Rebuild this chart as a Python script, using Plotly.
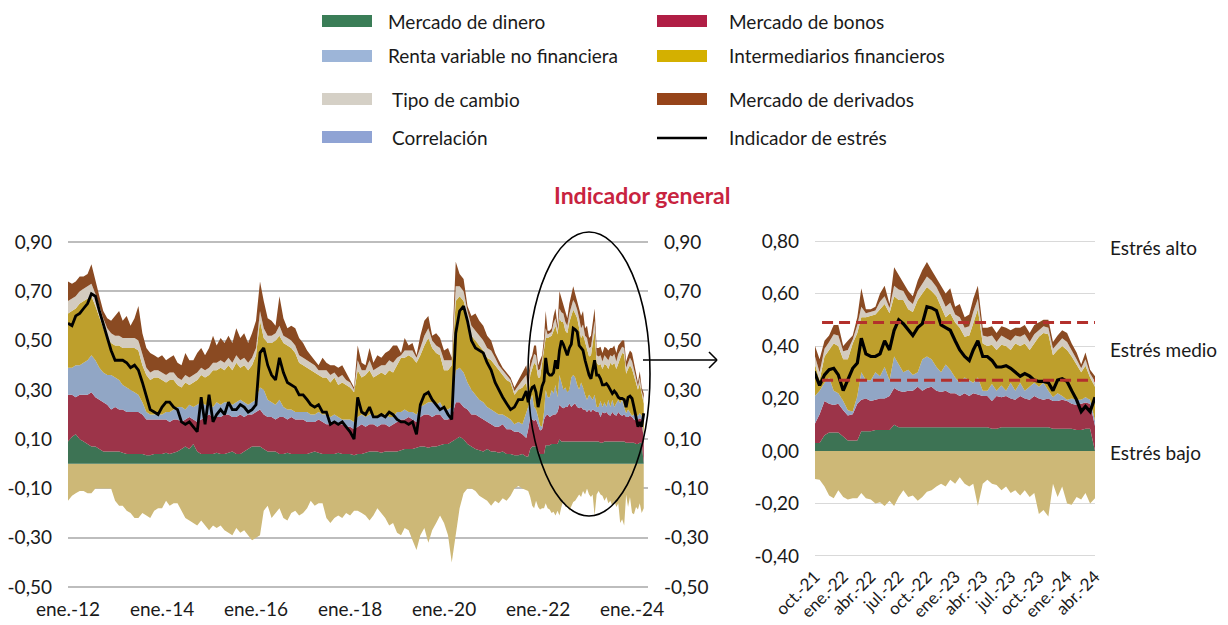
import pandas as pd
import plotly.graph_objects as go

# ---------------- Fechas: mensual 2012-01..2021-09, quincenal 2021-10..2024-04
meses = list(pd.date_range("2012-01-01", "2021-09-01", freq="MS"))
inicio_quinc = list(pd.date_range("2021-10-01", "2024-04-01", freq="MS"))
quinc = []
for k, d in enumerate(inicio_quinc):
    quinc.append(d)
    if k < len(inicio_quinc) - 1:
        quinc.append(d + pd.Timedelta(days=15))
fechas = meses + quinc

# ---------------- Componentes
mercado_dinero = [
    .09, .11, .12, .10, .09, .08, .07, .07, .06, .05, .05, .05,
    .05, .05, .045, .04, .04, .04, .04, .04, .035, .035, .04, .04,
    .04, .045, .04, .045, .05, .06, .07, .06, .08, .05, .04, .04,
    .04, .04, .045, .04, .04, .045, .05, .04, .04, .05, .06, .07,
    .07, .07, .06, .05, .05, .05, .04, .04, .045, .04, .04, .04,
    .04, .04, .045, .05, .045, .04, .04, .04, .04, .045, .04, .04,
    .04, .035, .04, .04, .045, .05, .05, .05, .045, .05, .05, .05,
    .05, .055, .06, .06, .06, .065, .07, .07, .065, .07, .07, .075,
    .08, .08, .09, .10, .11, .10, .08, .07, .06, .055, .05, .06,
    .05, .05, .045, .05, .04, .04, .035, .035, .04,
    .03, .03, .06, .07, .07, .07, .055, .04, .04, .04, .075, .075, .075, .08, .08, .08, .08,
    .10, .09, .09, .09, .09, .09, .09, .09, .09, .09, .09, .09, .09, .09, .09, .09, .09, .09,
    .09, .09, .09, .085, .085, .09, .09, .09, .09, .09, .09, .09, .09, .09, .09, .09,
    .085, .085, .085, .085, .085, .08, .08, .085, .085,
]
mercado_bonos = [
    .19, .17, .15, .18, .19, .20, .22, .20, .20, .20, .19, .17,
    .18, .17, .175, .17, .17, .17, .17, .16, .145, .145, .14, .14,
    .14, .135, .13, .135, .13, .11, .11, .13, .10, .12, .14, .15,
    .16, .15, .145, .15, .16, .155, .14, .15, .16, .14, .14, .13,
    .14, .15, .14, .14, .14, .13, .15, .15, .135, .15, .14, .14,
    .14, .13, .125, .12, .135, .13, .12, .12, .13, .115, .12, .11,
    .11, .105, .11, .12, .105, .11, .11, .10, .115, .11, .10, .11,
    .12, .125, .12, .13, .12, .105, .12, .13, .135, .12, .13, .125,
    .10, .10, .10, .15, .14, .13, .14, .13, .14, .135, .13, .11,
    .11, .10, .105, .11, .10, .10, .095, .095, .08,
    .075, .11, .13, .11, .105, .11, .10, .095, .10, .14, .12, .125, .115, .115, .12, .12, .13,
    .14, .14, .135, .14, .14, .155, .14, .15, .155, .14, .135, .14, .13, .13, .12, .13, .12,
    .13, .125, .12, .12, .105, .125, .115, .12, .11, .105, .12, .11, .105, .12, .11, .105,
    .11, .105, .105, .11, .105, .095, .095, .10, .10, .095, .095,
]
renta_variable = [
    .11, .11, .13, .12, .13, .14, .15, .15, .13, .12, .12, .14,
    .12, .12, .10, .10, .09, .08, .07, .05, .03, .02, .02, .02,
    .02, .03, .04, .04, .05, .06, .04, .05, .05, .07, .07, .05,
    .04, .04, .06, .05, .05, .05, .05, .06, .06, .06, .04, .05,
    .05, .09, .10, .07, .06, .06, .07, .04, .04, .03, .03, .03,
    .03, .04, .03, .03, .03, .03, .04, .03, .03, .03, .02, .03,
    .03, .03, .04, .04, .04, .04, .04, .04, .04, .04, .04, .03,
    .04, .03, .04, .02, .03, .03, .04, .04, .05, .06, .04, .05,
    .04, .04, .04, .13, .14, .14, .11, .10, .08, .07, .07, .06,
    .06, .06, .05, .04, .05, .04, .03, .04, .04,
    .105, .09, .07, .10, .055, .04, .035, .02, .01, .03, .105, .07, .08, .105, .085, .12, .06,
    .12, .10, .075, .08, .06, .055, .12, .12, .105, .09, .075, .10, .09, .06, .05, .06, .06,
    .04, .065, .02, .02, .065, .02, .045, .02, .06, .035, .05, .03, .05, .05, .045, .065,
    .03, .015, .03, .015, .005, .02, .02, .015, .02, .015, .02,
]
intermediarios = [
    .22, .23, .23, .25, .25, .25, .24, .22, .20, .18, .15, .13,
    .13, .14, .15, .16, .17, .18, .18, .15, .15, .14, .15, .15,
    .14, .12, .13, .12, .09, .08, .11, .08, .10, .10, .11, .11,
    .12, .15, .13, .15, .13, .15, .14, .16, .13, .15, .14, .15,
    .18, .27, .21, .23, .24, .26, .26, .26, .26, .25, .24, .20,
    .19, .18, .18, .17, .15, .15, .15, .14, .15, .13, .15, .14,
    .13, .12, .19, .15, .17, .18, .15, .17, .17, .16, .19, .18,
    .19, .22, .21, .23, .22, .21, .21, .24, .26, .22, .21, .19,
    .16, .16, .17, .28, .29, .29, .27, .22, .22, .22, .21, .20,
    .20, .19, .18, .16, .15, .15, .12, .13, .15,
    .12, .04, .10, .105, .18, .18, .16, .195, .26, .24, .21, .24, .245, .22, .255, .24, .255,
    .23, .245, .275, .23, .24, .275, .25, .265, .26, .27, .25, .18, .215, .21, .21, .155, .17,
    .23, .26, .18, .17, .15, .155, .155, .17, .125, .18, .14, .18, .14, .15, .19, .19,
    .215, .16, .165, .19, .19, .16, .135, .105, .12, .085, .13,
]
tipo_cambio = [
    .05, .05, .05, .05, .05, .05, .05, .05, .05, .04, .04, .04,
    .04, .04, .04, .04, .04, .04, .04, .04, .03, .03, .03, .03,
    .03, .03, .03, .03, .03, .03, .03, .03, .03, .03, .03, .03,
    .03, .03, .03, .03, .03, .03, .03, .03, .03, .03, .03, .03,
    .03, .04, .04, .03, .03, .03, .04, .03, .03, .03, .03, .03,
    .03, .03, .03, .03, .02, .03, .03, .03, .02, .03, .03, .02,
    .02, .01, .04, .03, .02, .04, .03, .03, .03, .04, .04, .04,
    .03, .01, .03, .02, .03, .02, .03, .04, .04, .03, .03, .03,
    .04, .04, .02, .06, .04, .04, .02, .04, .04, .04, .04, .04,
    .04, .03, .02, .02, .02, .01, .015, .02, .03,
    .03, .03, .03, .03, .035, .04, .03, .035, .015, .03, .04, .015, .015, .015, .03, .03, .02,
    .04, .04, .035, .035, .03, .035, .04, .04, .04, .035, .04, .04, .04, .03, .04, .035, .035,
    .04, .04, .03, .035, .035, .03, .035, .03, .035, .03, .035, .035, .03, .035, .025, .025,
    .025, .025, .025, .03, .03, .025, .02, .015, .025, .015, .02,
]
derivados = [
    .08, .06, .06, .06, .05, .05, .08, .06, .04, .03, .04, .05,
    .08, .10, .07, .09, .05, .08, .14, .09, .08, .08, .06, .05,
    .07, .06, .06, .07, .06, .06, .09, .07, .06, .08, .08, .06,
    .08, .11, .07, .09, .08, .09, .08, .11, .09, .10, .08, .10,
    .11, .12, .11, .07, .06, .03, .12, .07, .04, .06, .07, .07,
    .06, .04, .03, .02, .02, .05, .03, .04, .03, .04, .04, .03,
    .01, .01, .06, .03, .02, .05, .03, .05, .03, .05, .04, .07,
    .05, .01, .05, .02, .03, .01, .05, .06, .05, .02, .05, .04,
    .04, .05, .01, .10, .05, .05, .02, .04, .07, .06, .06, .05,
    .04, .02, .02, .01, .01, .01, .015, .02, .03,
    .04, .05, .03, .025, .035, .04, .02, .035, .015, .03, .07, .015, .01, .015, .03, .04, .015,
    .07, .055, .03, .035, .03, .04, .05, .055, .04, .035, .04, .05, .055, .03, .05, .04, .045,
    .05, .05, .03, .035, .035, .035, .035, .04, .04, .03, .035, .035, .035, .035, .03, .025,
    .03, .025, .03, .03, .035, .025, .025, .015, .025, .015, .02,
]
correlacion = [
    -.15, -.13, -.12, -.11, -.11, -.12, -.12, -.10, -.10, -.10, -.10, -.10,
    -.15, -.17, -.17, -.19, -.20, -.22, -.22, -.20, -.21, -.22, -.19, -.18,
    -.18, -.15, -.17, -.16, -.16, -.19, -.22, -.23, -.24, -.25, -.23, -.25,
    -.27, -.25, -.26, -.25, -.27, -.28, -.29, -.26, -.28, -.27, -.29, -.31,
    -.30, -.29, -.19, -.17, -.22, -.20, -.18, -.22, -.23, -.20, -.19, -.21,
    -.20, -.18, -.15, -.17, -.16, -.16, -.22, -.24, -.22, -.21, -.22, -.20,
    -.21, -.19, -.19, -.20, -.21, -.23, -.21, -.18, -.20, -.22, -.25, -.24,
    -.28, -.29, -.26, -.27, -.31, -.35, -.29, -.26, -.32, -.27, -.24, -.21,
    -.24, -.29, -.40, -.28, -.18, -.12, -.10, -.10, -.11, -.13, -.14, -.15,
    -.17, -.15, -.16, -.14, -.15, -.13, -.10, -.09, -.10,
    -.105, -.11, -.135, -.17, -.18, -.15, -.175, -.185, -.18, -.18, -.16, -.18, -.185, -.20, -.195, -.21, -.19,
    -.21, -.175, -.15, -.175, -.17, -.19, -.175, -.155, -.15, -.135, -.125, -.135, -.11, -.125, -.10, -.125, -.135,
    -.125, -.21, -.125, -.11, -.125, -.13, -.15, -.135, -.16, -.15, -.17, -.15, -.175, -.16, -.24, -.225,
    -.25, -.125, -.175, -.135, -.20, -.205, -.175, -.185, -.16, -.20, -.18,
]
indicador_estres = [
    .57, .56, .60, .61, .63, .65, .69, .68, .62, .57, .52, .46,
    .42, .42, .42, .41, .39, .40, .38, .33, .27, .22, .21, .20,
    .23, .25, .25, .23, .22, .17, .16, .17, .15, .13, .27, .16,
    .28, .17, .20, .22, .20, .25, .22, .22, .24, .23, .21, .22,
    .24, .45, .47, .40, .36, .34, .43, .37, .33, .32, .31, .28,
    .28, .26, .24, .23, .24, .21, .21, .16, .17, .16, .17, .15,
    .13, .10, .27, .21, .20, .23, .19, .19, .20, .19, .21, .20,
    .18, .17, .17, .16, .17, .12, .24, .28, .29, .26, .24, .22,
    .23, .20, .18, .53, .62, .64, .58, .50, .47, .46, .45, .41,
    .38, .33, .30, .27, .245, .22, .23, .26, .26,
    .295, .25, .29, .31, .315, .29, .23, .27, .315, .335, .43, .37, .36, .36, .37, .42, .385,
    .46, .50, .485, .46, .44, .47, .485, .55, .545, .535, .48, .47, .46, .42, .385, .36, .345,
    .385, .42, .36, .36, .345, .32, .32, .325, .315, .30, .285, .295, .285, .27, .265, .265,
    .26, .23, .27, .275, .265, .23, .195, .15, .17, .15, .205,
]

# Umbrales de estrés (panel derecho)
umbral_alto = 0.49
umbral_medio = 0.27

# Etiquetas de ejes
yvals_izq = [-0.5, -0.3, -0.1, 0.1, 0.3, 0.5, 0.7, 0.9]
ytext_izq = ["-0,50", "-0,30", "-0,10", "0,10", "0,30", "0,50", "0,70", "0,90"]
xvals_izq = ["2012-01-01", "2014-01-01", "2016-01-01", "2018-01-01", "2020-01-01", "2022-01-01", "2024-01-01"]
xtext_izq = ["ene.-12", "ene.-14", "ene.-16", "ene.-18", "ene.-20", "ene.-22", "ene.-24"]
yvals_der = [-0.4, -0.2, 0.0, 0.2, 0.4, 0.6, 0.8]
ytext_der = ["-0,40", "-0,20", "0,00", "0,20", "0,40", "0,60", "0,80"]
xvals_der = ["2021-10-01", "2022-01-01", "2022-04-01", "2022-07-01", "2022-10-01", "2023-01-01",
             "2023-04-01", "2023-07-01", "2023-10-01", "2024-01-01", "2024-04-01"]
xtext_der = ["oct.-21", "ene.-22", "abr.-22", "jul.-22", "oct.-22", "ene.-23",
             "abr.-23", "jul.-23", "oct.-23", "ene.-24", "abr.-24"]

# Series y colores
capas = [
    ("Mercado de dinero", mercado_dinero, "#3D7354"),
    ("Mercado de bonos", mercado_bonos, "#9C3449"),
    ("Renta variable no financiera", renta_variable, "#91A6C5"),
    ("Intermediarios financieros", intermediarios, "#BE9F2C"),
    ("Tipo de cambio", tipo_cambio, "#D3CBBF"),
    ("Mercado de derivados", derivados, "#8A4A22"),
]
color_corr = "#CDB877"

leyenda_items = [
    ("Mercado de dinero", "#3A7D57", 0, 0),
    ("Mercado de bonos", "#B01E45", 1, 0),
    ("Renta variable no financiera", "#9DB5D8", 0, 1),
    ("Intermediarios financieros", "#D4B000", 1, 1),
    ("Tipo de cambio", "#D5D0C6", 0, 2),
    ("Mercado de derivados", "#96441A", 1, 2),
    ("Correlación", "#8FA3D4", 0, 3),
    ("Indicador de estrés", None, 1, 3),
]

# La página añade un margen de 8 px: la figura ocupa la ventana menos ese margen
OFF = 8
W, H = 1228 - OFF, 625 - OFF
FONT = "Lato"

fig = go.Figure()

for (xa, ya, ya_line, grp) in [("x", "y", "y2", "izq"), ("x2", "y3", "y3", "der")]:
    fig.add_trace(go.Scatter(x=fechas, y=correlacion, mode="lines", line=dict(width=0),
                             fill="tozeroy", fillcolor=color_corr, name="Correlación",
                             xaxis=xa, yaxis=ya, hoverinfo="skip"))
    for nombre, vals, col in capas:
        fig.add_trace(go.Scatter(x=fechas, y=vals, mode="lines", line=dict(width=0, color=col),
                                 stackgroup=grp, fillcolor=col, name=nombre,
                                 xaxis=xa, yaxis=ya, hoverinfo="skip"))
    fig.add_trace(go.Scatter(x=fechas, y=indicador_estres, mode="lines",
                             line=dict(color="black", width=3.2 if grp == "der" else 2.8),
                             name="Indicador de estrés", xaxis=xa, yaxis=ya_line, hoverinfo="skip"))


def px_x(p):
    # p: posición en píxeles de la ventana
    return (p - OFF) / W


def px_y(p):
    return 1 - (p - OFF) / H


izq_dom_y = [px_y(589.5), px_y(239.5)]
der_dom_y = [px_y(558.6), px_y(238.4)]
tick_font = dict(family=FONT, size=19, color="#1a1a1a")
tick_font_rot = dict(family=FONT, size=17, color="#1a1a1a")

fig.update_layout(
    width=W, height=H, margin=dict(l=0, r=0, t=0, b=0),
    paper_bgcolor="white", plot_bgcolor="white", showlegend=False,
    font=dict(family=FONT, size=19, color="#1a1a1a"),
    xaxis=dict(domain=[px_x(68), px_x(648)], range=["2012-01-01", "2024-05-04"], anchor="y",
               tickmode="array", tickvals=xvals_izq, ticktext=xtext_izq, showgrid=False,
               zeroline=False, showline=False, ticks="", tickfont=tick_font,
               ticklabelstandoff=6, automargin=False),
    yaxis=dict(domain=izq_dom_y, range=[-0.51, 0.91], anchor="x", tickmode="array",
               tickvals=yvals_izq, ticktext=ytext_izq, showgrid=True, gridcolor="#BDBDBD",
               gridwidth=1.6, zeroline=False, showline=False, ticks="", tickfont=tick_font,
               ticklabelstandoff=15, automargin=False),
    yaxis2=dict(overlaying="y", side="right", anchor="x", range=[-0.51, 0.91], tickmode="array",
                tickvals=yvals_izq, ticktext=ytext_izq, showgrid=False, zeroline=False,
                showline=False, ticks="", tickfont=tick_font, ticklabelstandoff=15,
                automargin=False),
    xaxis2=dict(domain=[px_x(815), px_x(1095)], range=["2021-10-01", "2024-04-01"], anchor="y3",
                tickmode="array", tickvals=xvals_der, ticktext=xtext_der, tickangle=-45,
                showgrid=False, zeroline=False, showline=False, ticks="", tickfont=tick_font_rot,
                ticklabelstandoff=4, automargin=False),
    yaxis3=dict(domain=der_dom_y, range=[-0.41, 0.81], anchor="x2", tickmode="array",
                tickvals=yvals_der, ticktext=ytext_der, showgrid=True, gridcolor="#D9D9D9",
                gridwidth=1.4, zeroline=False, showline=False, ticks="", tickfont=tick_font,
                ticklabelstandoff=15, automargin=False),
)

shapes = []
annotations = []

# Umbrales punteados
for u in (umbral_alto, umbral_medio):
    shapes.append(dict(type="line", xref="x2", yref="y3", x0="2021-10-24", x1="2024-04-01",
                       y0=u, y1=u, line=dict(color="#B3302C", width=3, dash="11px,6px")))

# Elipse y flecha
shapes.append(dict(type="circle", xref="paper", yref="paper", x0=px_x(528), x1=px_x(650),
                   y0=px_y(516), y1=px_y(232), line=dict(color="black", width=1.6)))
shapes.append(dict(type="line", xref="paper", yref="paper", x0=px_x(643), x1=px_x(717),
                   y0=px_y(360), y1=px_y(360), line=dict(color="black", width=1.6)))
shapes.append(dict(type="line", xref="paper", yref="paper", x0=px_x(709), x1=px_x(717),
                   y0=px_y(352), y1=px_y(360), line=dict(color="black", width=1.6)))
shapes.append(dict(type="line", xref="paper", yref="paper", x0=px_x(709), x1=px_x(717),
                   y0=px_y(368), y1=px_y(360), line=dict(color="black", width=1.6)))

# Leyenda
col_sw = [(322, 372), (657, 707)]
col_tx = [[387, 387, 391, 391], [728, 728, 728, 728]]
row_y = [21, 56, 99, 137]
for nombre, col, c, r in leyenda_items:
    x0, x1 = col_sw[c]
    yc = row_y[r]
    if col is None:
        shapes.append(dict(type="line", xref="paper", yref="paper", x0=px_x(x0), x1=px_x(x1),
                           y0=px_y(yc + 1), y1=px_y(yc + 1), line=dict(color="black", width=2.5)))
    else:
        shapes.append(dict(type="rect", xref="paper", yref="paper", x0=px_x(x0), x1=px_x(x1),
                           y0=px_y(yc + 6), y1=px_y(yc - 6), line=dict(width=0), fillcolor=col))
    annotations.append(dict(xref="paper", yref="paper", x=px_x(col_tx[c][r]), y=px_y(yc),
                            xanchor="left", yanchor="middle", showarrow=False, text=nombre,
                            borderpad=0, font=dict(family=FONT, size=19, color="#1a1a1a")))

# Título
annotations.append(dict(xref="paper", yref="paper", x=px_x(642), y=px_y(195), xanchor="center",
                        yanchor="middle", showarrow=False, text="<b>Indicador general</b>",
                        font=dict(family=FONT, size=23, color="#C8233F")))

# Niveles de estrés
for texto, yc in [("Estrés alto", 248), ("Estrés medio", 350), ("Estrés bajo", 452)]:
    annotations.append(dict(xref="paper", yref="paper", x=px_x(1108), y=px_y(yc),
                            xanchor="left", yanchor="middle", showarrow=False, text=texto,
                            font=dict(family=FONT, size=19, color="#1a1a1a")))

fig.update_layout(shapes=shapes, annotations=annotations)
fig.write_html("out.html")
